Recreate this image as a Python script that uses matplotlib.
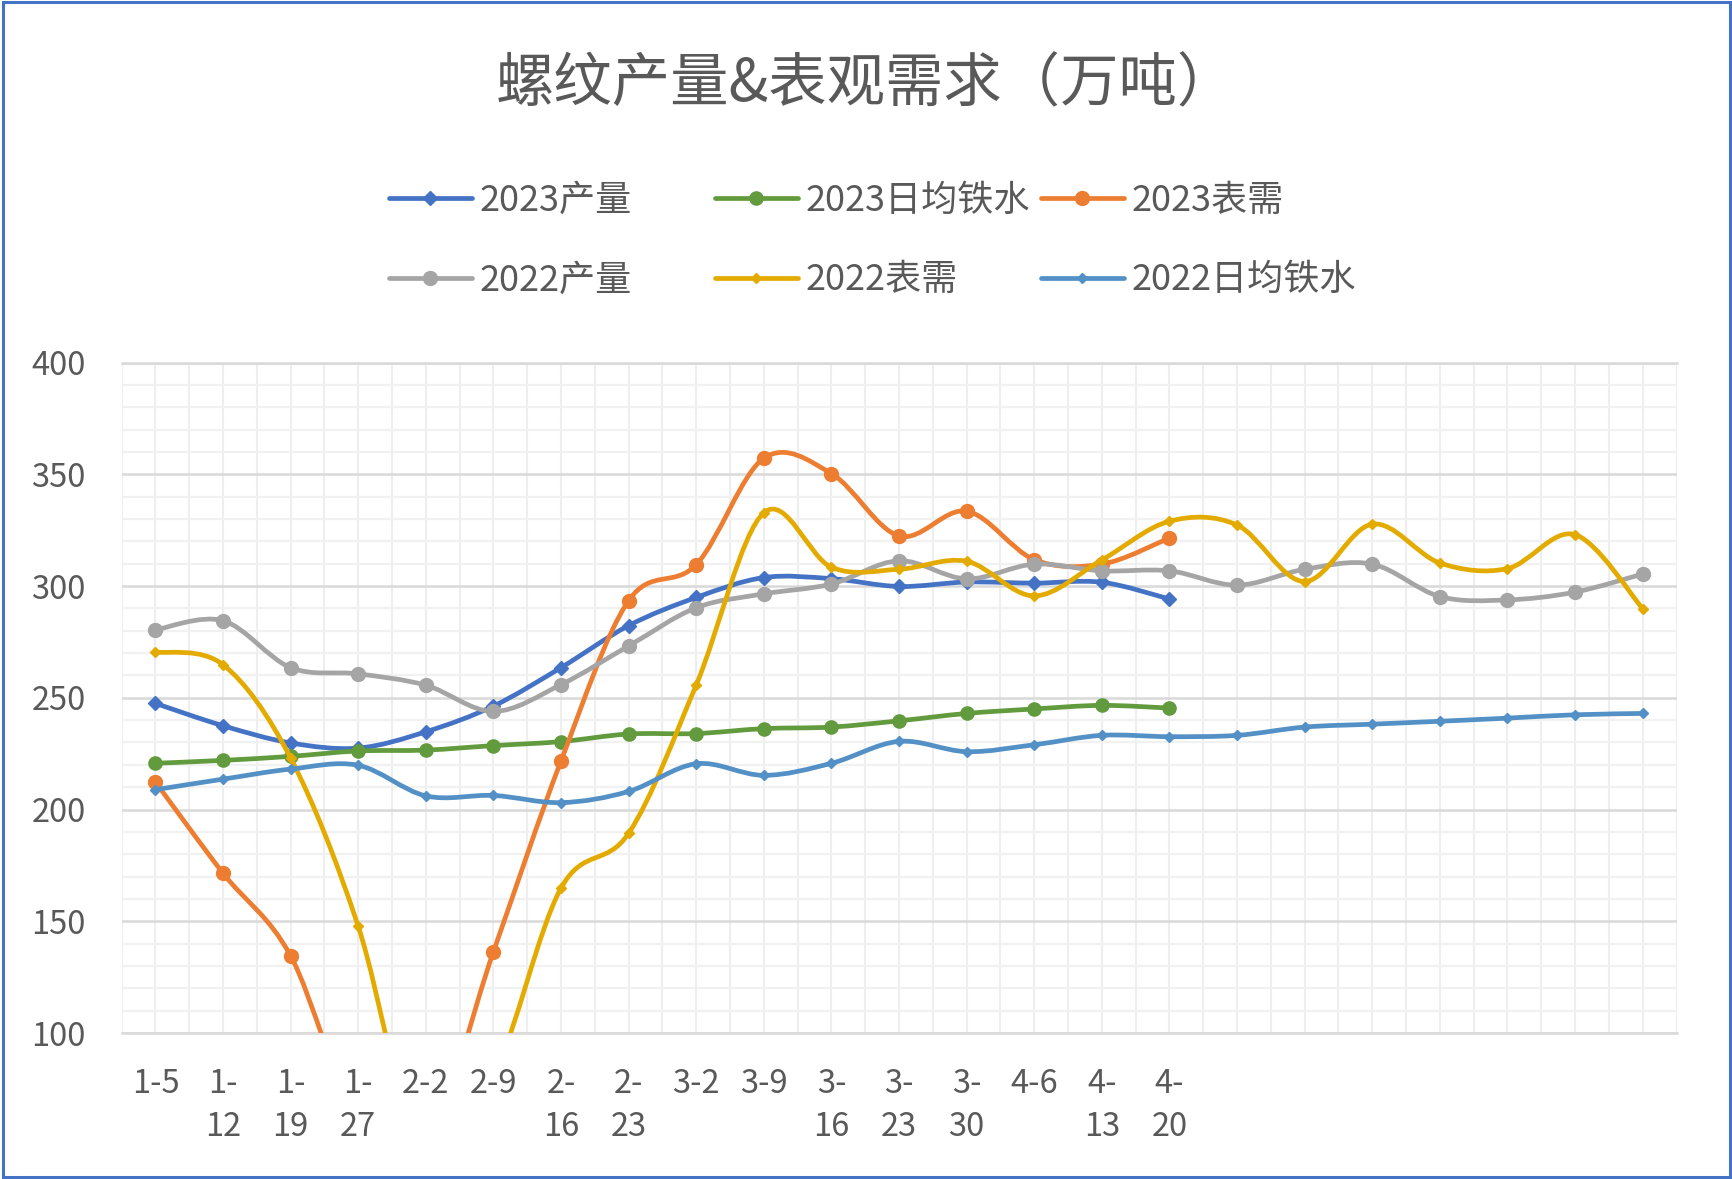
import numpy as np
import matplotlib
matplotlib.use('Agg')
import matplotlib.pyplot as plt
from matplotlib.path import Path
from matplotlib.patches import PathPatch, Rectangle
from matplotlib.lines import Line2D

plt.rcParams['font.family'] = ['Noto Sans CJK SC', 'DejaVu Sans']

# ---------------- data ----------------
dates = ['1-5', '1-12', '1-19', '1-27', '2-2', '2-9', '2-16', '2-23',
         '3-2', '3-9', '3-16', '3-23', '3-30', '4-6', '4-13', '4-20',
         '', '', '', '', '', '', '']

prod23 = [247.5, 237.5, 229.8, 227.5, 234.8, 246.3, 263.5, 282.3,
          294.9, 303.8, 303.3, 299.8, 301.8, 301.3, 301.7, 294.2]
iron23 = [220.7, 222.0, 223.8, 226.2, 226.6, 228.6, 230.4, 233.8,
          234.0, 236.2, 236.9, 239.7, 243.0, 245.0, 246.6, 245.4]
dem23 = [212.3, 171.5, 134.5, 60.0, 50.0, 136.4, 221.8, 293.5,
         309.6, 357.2, 350.3, 322.4, 333.5, 311.8, 309.8, 321.5]
prod22 = [280.4, 284.5, 263.5, 260.7, 255.6, 243.9, 255.9, 273.2,
          290.3, 296.5, 300.9, 311.3, 303.2, 309.8, 306.8, 306.8,
          300.4, 307.5, 309.8, 295.3, 293.8, 297.3, 305.4]
dem22 = [270.5, 264.8, 223.0, 147.7, 40.0, 80.0, 164.9, 189.4,
         255.8, 332.8, 308.4, 307.5, 311.1, 295.6, 311.7, 329.0,
         327.3, 302.0, 327.7, 310.3, 307.8, 323.0, 289.9]
iron22 = [208.9, 213.6, 218.1, 219.8, 206.1, 206.3, 203.1, 208.1,
          220.5, 215.3, 220.7, 230.5, 225.9, 229.0, 233.2, 232.6,
          233.2, 236.9, 238.2, 239.5, 240.9, 242.4, 243.0]

series = [
    ('2023产量', prod23, '#4472C4', 'D', 7),
    ('2023日均铁水', iron23, '#619B3D', 'o', 9.5),
    ('2023表需', dem23, '#ED7D31', 'o', 10),
    ('2022产量', prod22, '#A5A5A5', 'o', 10),
    ('2022表需', dem22, '#E3AB00', 'D', 5.5),
    ('2022日均铁水', iron22, '#5390C6', 'D', 5.5),
]

txt_col = '#595959'


def smooth_path(xv, yv):
    # excel style smoothed line, cubic bezier through the points
    pts = np.column_stack([xv, yv]).astype(float)
    n = len(pts)
    verts = [pts[0]]
    codes = [Path.MOVETO]
    for i in range(n - 1):
        p0 = pts[max(i - 1, 0)]
        p1 = pts[i]
        p2 = pts[i + 1]
        p3 = pts[min(i + 2, n - 1)]
        verts += [p1 + (p2 - p0) / 6.0, p2 - (p3 - p1) / 6.0, p2]
        codes += [Path.CURVE4] * 3
    return Path(verts, codes)


# ---------------- figure ----------------
fig = plt.figure(figsize=(17.33, 11.79), dpi=100)
ax = fig.add_axes([0.0702, 0.1238, 0.8972, 0.5687])

handles = []
for k, (name, vals, col, mk, ms) in enumerate(series):
    xv = np.arange(len(vals))
    patch = PathPatch(smooth_path(xv, vals), facecolor='none', edgecolor=col,
                      lw=3.4, capstyle='round', joinstyle='round', zorder=3 + 2 * k)
    ax.add_patch(patch)
    ax.plot(xv, vals, ls='none', marker=mk, ms=ms, color=col, mec=col,
            zorder=3.5 + 2 * k)
    handles.append(Line2D([], [], color=col, lw=3.4, marker=mk, ms=ms,
                          solid_capstyle='round'))

ax.set_xlim(-0.5, 22.5)
ax.set_ylim(100, 400)

ax.set_xticks(np.arange(len(dates)))
ax.set_xticklabels([d.replace('-', '-\n') if len(d) > 3 else d for d in dates],
                   fontsize=23.5, color=txt_col, linespacing=1.45, va='top')
ax.set_xticks(np.arange(-0.5, 23, 1.0), minor=True)
ax.set_yticks(np.arange(100, 401, 50))
ax.set_yticklabels([str(v) for v in range(100, 401, 50)], fontsize=23.5, color=txt_col)
ax.set_yticks(np.arange(100, 401, 10), minor=True)

ax.tick_params(axis='both', which='both', length=0)
ax.tick_params(axis='x', pad=25)
ax.tick_params(axis='y', pad=26)

ax.set_axisbelow(True)
ax.grid(axis='x', which='both', color='#EEEEEE', lw=1.5)
ax.grid(axis='y', which='minor', color='#F1F1F1', lw=1.6)
ax.grid(axis='y', which='major', color='#D9D9D9', lw=1.8)

for s in ['left', 'right']:
    ax.spines[s].set_visible(False)
for s in ['top', 'bottom']:
    ax.spines[s].set_color('#D9D9D9')
    ax.spines[s].set_linewidth(1.8)

#------------------
fig.text(0.4995, 0.928, '螺纹产量&表观需求（万吨）', fontsize=42, color=txt_col,
         ha='center', va='center')

names = [s[0] for s in series]
cols_idx = [[0, 3], [1, 4], [2, 5]]
x_pos = [0.2244, 0.4125, 0.6006]
for xp, idx in zip(x_pos, cols_idx):
    fig.legend([handles[i] for i in idx], [names[i] for i in idx],
               loc='center left', bbox_to_anchor=(xp, 0.7958),
               frameon=False, fontsize=26, labelcolor=txt_col,
               handlelength=2.3, handletextpad=0.2, labelspacing=1.2,
               borderpad=0, borderaxespad=0)

fig.add_artist(Rectangle((0.0015, 0.0015), 0.997, 0.997, transform=fig.transFigure,
                         fill=False, edgecolor='#4472C4', lw=2.2))

plt.savefig('out.png', dpi=100)
